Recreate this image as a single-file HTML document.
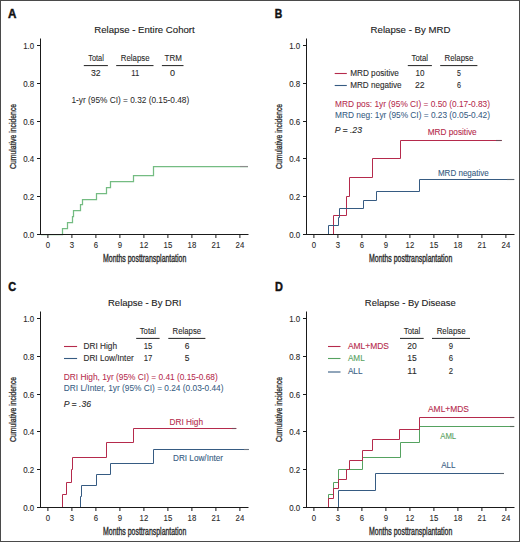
<!DOCTYPE html>
<html><head><meta charset="utf-8"><style>
html,body{margin:0;padding:0;background:#fff;}
svg{display:block;font-family:"Liberation Sans", sans-serif;}
</style></head><body>
<svg width="520" height="542" viewBox="0 0 520 542" font-family='"Liberation Sans", sans-serif'>
<rect x="0" y="0" width="520" height="542" fill="#fff"/>
<rect x="0.5" y="0.5" width="519" height="541" fill="none" stroke="#4a4a4a" stroke-width="1"/>
<text x="8.10" y="17.70" font-size="12" fill="#111" font-weight="bold" font-style="normal" textLength="8.40" lengthAdjust="spacingAndGlyphs" stroke="#111" stroke-width="0.45">A</text>
<text x="94.30" y="33.00" font-size="9.8" fill="#222" font-weight="normal" font-style="normal" textLength="100.40" lengthAdjust="spacingAndGlyphs" stroke="#222" stroke-width="0.12">Relapse - Entire Cohort</text>
<text x="88.20" y="60.50" font-size="8.3" fill="#2a2a2a" font-weight="normal" font-style="normal" textLength="15.60" lengthAdjust="spacingAndGlyphs" stroke="#2a2a2a" stroke-width="0.1">Total</text>
<text x="120.80" y="60.50" font-size="8.3" fill="#2a2a2a" font-weight="normal" font-style="normal" textLength="28.80" lengthAdjust="spacingAndGlyphs" stroke="#2a2a2a" stroke-width="0.1">Relapse</text>
<text x="164.60" y="60.50" font-size="8.3" fill="#2a2a2a" font-weight="normal" font-style="normal" textLength="17.30" lengthAdjust="spacingAndGlyphs" stroke="#2a2a2a" stroke-width="0.1">TRM</text>
<line x1="83.8" y1="65.6" x2="107.9" y2="65.6" stroke="#222" stroke-width="1"/>
<line x1="116.2" y1="65.6" x2="153.5" y2="65.6" stroke="#222" stroke-width="1"/>
<line x1="161.9" y1="65.6" x2="183.5" y2="65.6" stroke="#222" stroke-width="1"/>
<text x="91.00" y="76.30" font-size="8.3" fill="#2a2a2a" font-weight="normal" font-style="normal" textLength="9.70" lengthAdjust="spacingAndGlyphs" stroke="#2a2a2a" stroke-width="0.1">32</text>
<text x="131.20" y="76.30" font-size="8.3" fill="#2a2a2a" font-weight="normal" font-style="normal" textLength="8.00" lengthAdjust="spacingAndGlyphs" stroke="#2a2a2a" stroke-width="0.1">11</text>
<text x="170.00" y="76.30" font-size="8.3" fill="#2a2a2a" font-weight="normal" font-style="normal" textLength="5.00" lengthAdjust="spacingAndGlyphs" stroke="#2a2a2a" stroke-width="0.1">0</text>
<text x="71.50" y="102.80" font-size="8.8" fill="#2a2a2a" font-weight="normal" font-style="normal" textLength="117.70" lengthAdjust="spacingAndGlyphs" stroke="#2a2a2a" stroke-width="0.05">1-yr (95% CI) = 0.32 (0.15-0.48)</text>
<path d="M41,234.50 H62.5 V228.50 H67.5 V222.50 H72.5 V216.50 H73.5 V210.50 H80.5 V204.50 H82.5 V199.50 H96.5 V193.50 H106.5 V187.50 H110.5 V181.50 H133.5 V175.50 H153.5 V166.50 H248" fill="none" stroke="#74bc82" stroke-width="1.25" stroke-linejoin="miter" stroke-linecap="butt"/>
<line x1="40.5" y1="38.5" x2="40.5" y2="235" stroke="#1a1a1a" stroke-width="1"/>
<line x1="40" y1="234.5" x2="248.5" y2="234.5" stroke="#1a1a1a" stroke-width="1"/>
<line x1="37" y1="234.5" x2="40.5" y2="234.5" stroke="#1a1a1a" stroke-width="1"/>
<text x="23.20" y="237.50" font-size="8.2" fill="#2a2a2a" font-weight="normal" font-style="normal" textLength="11.00" lengthAdjust="spacingAndGlyphs" stroke="#2a2a2a" stroke-width="0.1">0.0</text>
<line x1="37" y1="196.5" x2="40.5" y2="196.5" stroke="#1a1a1a" stroke-width="1"/>
<text x="23.20" y="199.50" font-size="8.2" fill="#2a2a2a" font-weight="normal" font-style="normal" textLength="11.00" lengthAdjust="spacingAndGlyphs" stroke="#2a2a2a" stroke-width="0.1">0.2</text>
<line x1="37" y1="158.5" x2="40.5" y2="158.5" stroke="#1a1a1a" stroke-width="1"/>
<text x="23.20" y="161.50" font-size="8.2" fill="#2a2a2a" font-weight="normal" font-style="normal" textLength="11.00" lengthAdjust="spacingAndGlyphs" stroke="#2a2a2a" stroke-width="0.1">0.4</text>
<line x1="37" y1="121.5" x2="40.5" y2="121.5" stroke="#1a1a1a" stroke-width="1"/>
<text x="23.20" y="124.50" font-size="8.2" fill="#2a2a2a" font-weight="normal" font-style="normal" textLength="11.00" lengthAdjust="spacingAndGlyphs" stroke="#2a2a2a" stroke-width="0.1">0.6</text>
<line x1="37" y1="83.5" x2="40.5" y2="83.5" stroke="#1a1a1a" stroke-width="1"/>
<text x="23.20" y="86.50" font-size="8.2" fill="#2a2a2a" font-weight="normal" font-style="normal" textLength="11.00" lengthAdjust="spacingAndGlyphs" stroke="#2a2a2a" stroke-width="0.1">0.8</text>
<line x1="37" y1="45.5" x2="40.5" y2="45.5" stroke="#1a1a1a" stroke-width="1"/>
<text x="23.20" y="48.50" font-size="8.2" fill="#2a2a2a" font-weight="normal" font-style="normal" textLength="11.00" lengthAdjust="spacingAndGlyphs" stroke="#2a2a2a" stroke-width="0.1">1.0</text>
<line x1="47.9" y1="234.5" x2="47.9" y2="238" stroke="#1a1a1a" stroke-width="1"/>
<text x="45.73" y="248.00" font-size="8.4" fill="#2a2a2a" font-weight="normal" font-style="normal" textLength="4.33" lengthAdjust="spacingAndGlyphs" stroke="#2a2a2a" stroke-width="0.1">0</text>
<line x1="71.9" y1="234.5" x2="71.9" y2="238" stroke="#1a1a1a" stroke-width="1"/>
<text x="69.73" y="248.00" font-size="8.4" fill="#2a2a2a" font-weight="normal" font-style="normal" textLength="4.33" lengthAdjust="spacingAndGlyphs" stroke="#2a2a2a" stroke-width="0.1">3</text>
<line x1="95.9" y1="234.5" x2="95.9" y2="238" stroke="#1a1a1a" stroke-width="1"/>
<text x="93.73" y="248.00" font-size="8.4" fill="#2a2a2a" font-weight="normal" font-style="normal" textLength="4.33" lengthAdjust="spacingAndGlyphs" stroke="#2a2a2a" stroke-width="0.1">6</text>
<line x1="119.9" y1="234.5" x2="119.9" y2="238" stroke="#1a1a1a" stroke-width="1"/>
<text x="117.73" y="248.00" font-size="8.4" fill="#2a2a2a" font-weight="normal" font-style="normal" textLength="4.33" lengthAdjust="spacingAndGlyphs" stroke="#2a2a2a" stroke-width="0.1">9</text>
<line x1="143.9" y1="234.5" x2="143.9" y2="238" stroke="#1a1a1a" stroke-width="1"/>
<text x="139.57" y="248.00" font-size="8.4" fill="#2a2a2a" font-weight="normal" font-style="normal" textLength="8.66" lengthAdjust="spacingAndGlyphs" stroke="#2a2a2a" stroke-width="0.1">12</text>
<line x1="167.9" y1="234.5" x2="167.9" y2="238" stroke="#1a1a1a" stroke-width="1"/>
<text x="163.57" y="248.00" font-size="8.4" fill="#2a2a2a" font-weight="normal" font-style="normal" textLength="8.66" lengthAdjust="spacingAndGlyphs" stroke="#2a2a2a" stroke-width="0.1">15</text>
<line x1="191.9" y1="234.5" x2="191.9" y2="238" stroke="#1a1a1a" stroke-width="1"/>
<text x="187.57" y="248.00" font-size="8.4" fill="#2a2a2a" font-weight="normal" font-style="normal" textLength="8.66" lengthAdjust="spacingAndGlyphs" stroke="#2a2a2a" stroke-width="0.1">18</text>
<line x1="215.9" y1="234.5" x2="215.9" y2="238" stroke="#1a1a1a" stroke-width="1"/>
<text x="211.57" y="248.00" font-size="8.4" fill="#2a2a2a" font-weight="normal" font-style="normal" textLength="8.66" lengthAdjust="spacingAndGlyphs" stroke="#2a2a2a" stroke-width="0.1">21</text>
<line x1="239.9" y1="234.5" x2="239.9" y2="238" stroke="#1a1a1a" stroke-width="1"/>
<text x="235.57" y="248.00" font-size="8.4" fill="#2a2a2a" font-weight="normal" font-style="normal" textLength="8.66" lengthAdjust="spacingAndGlyphs" stroke="#2a2a2a" stroke-width="0.1">24</text>
<text x="103.10" y="262.20" font-size="10.0" fill="#2a2a2a" font-weight="normal" font-style="normal" textLength="83.20" lengthAdjust="spacingAndGlyphs" stroke="#2a2a2a" stroke-width="0.35">Months posttransplantation</text>
<text x="-168.90" y="16.40" transform="rotate(-90)" font-size="8.7" fill="#2a2a2a" stroke="#2a2a2a" stroke-width="0.3" textLength="65.0" lengthAdjust="spacingAndGlyphs">Cumulative incidence</text>
<text x="274.80" y="17.60" font-size="12" fill="#111" font-weight="bold" font-style="normal" textLength="7.50" lengthAdjust="spacingAndGlyphs" stroke="#111" stroke-width="0.45">B</text>
<text x="370.60" y="32.70" font-size="9.8" fill="#222" font-weight="normal" font-style="normal" textLength="79.80" lengthAdjust="spacingAndGlyphs" stroke="#222" stroke-width="0.12">Relapse - By MRD</text>
<text x="411.60" y="60.60" font-size="8.3" fill="#2a2a2a" font-weight="normal" font-style="normal" textLength="16.40" lengthAdjust="spacingAndGlyphs" stroke="#2a2a2a" stroke-width="0.1">Total</text>
<text x="444.50" y="60.60" font-size="8.3" fill="#2a2a2a" font-weight="normal" font-style="normal" textLength="28.90" lengthAdjust="spacingAndGlyphs" stroke="#2a2a2a" stroke-width="0.1">Relapse</text>
<line x1="407.8" y1="65.6" x2="431.9" y2="65.6" stroke="#222" stroke-width="1"/>
<line x1="440.2" y1="65.6" x2="477.4" y2="65.6" stroke="#222" stroke-width="1"/>
<line x1="334.7" y1="73.5" x2="346.8" y2="73.5" stroke="#b52a4c" stroke-width="1.1"/>
<text x="350.20" y="76.20" font-size="8.3" fill="#2a2a2a" font-weight="normal" font-style="normal" textLength="48.70" lengthAdjust="spacingAndGlyphs" stroke="#2a2a2a" stroke-width="0.1">MRD positive</text>
<text x="415.60" y="76.20" font-size="8.3" fill="#2a2a2a" font-weight="normal" font-style="normal" textLength="9.00" lengthAdjust="spacingAndGlyphs" stroke="#2a2a2a" stroke-width="0.1">10</text>
<text x="457.10" y="76.20" font-size="8.3" fill="#2a2a2a" font-weight="normal" font-style="normal" textLength="3.90" lengthAdjust="spacingAndGlyphs" stroke="#2a2a2a" stroke-width="0.1">5</text>
<line x1="334.7" y1="85.5" x2="346.8" y2="85.5" stroke="#365b82" stroke-width="1.1"/>
<text x="350.20" y="88.30" font-size="8.3" fill="#2a2a2a" font-weight="normal" font-style="normal" textLength="51.40" lengthAdjust="spacingAndGlyphs" stroke="#2a2a2a" stroke-width="0.1">MRD negative</text>
<text x="415.00" y="88.30" font-size="8.3" fill="#2a2a2a" font-weight="normal" font-style="normal" textLength="9.60" lengthAdjust="spacingAndGlyphs" stroke="#2a2a2a" stroke-width="0.1">22</text>
<text x="457.00" y="88.30" font-size="8.3" fill="#2a2a2a" font-weight="normal" font-style="normal" textLength="4.00" lengthAdjust="spacingAndGlyphs" stroke="#2a2a2a" stroke-width="0.1">6</text>
<text x="335.10" y="106.80" font-size="8.8" fill="#b52a4c" font-weight="normal" font-style="normal" textLength="154.90" lengthAdjust="spacingAndGlyphs" stroke="#b52a4c" stroke-width="0.05">MRD pos: 1yr (95% CI) = 0.50 (0.17-0.83)</text>
<text x="335.10" y="117.90" font-size="8.8" fill="#365b82" font-weight="normal" font-style="normal" textLength="154.90" lengthAdjust="spacingAndGlyphs" stroke="#365b82" stroke-width="0.05">MRD neg: 1yr (95% CI) = 0.23 (0.05-0.42)</text>
<text x="334.70" y="133.40" font-size="8.3" fill="#2a2a2a" font-weight="normal" font-style="italic" textLength="5.80" lengthAdjust="spacingAndGlyphs" stroke="#2a2a2a" stroke-width="0.1">P</text>
<text x="342.50" y="133.40" font-size="8.3" fill="#2a2a2a" font-weight="normal" font-style="italic" textLength="19.50" lengthAdjust="spacingAndGlyphs" stroke="#2a2a2a" stroke-width="0.1">= .23</text>
<text x="427.70" y="135.00" font-size="9.1" fill="#b52a4c" font-weight="normal" font-style="normal" textLength="49.00" lengthAdjust="spacingAndGlyphs" stroke="#b52a4c" stroke-width="0.1">MRD positive</text>
<text x="437.90" y="175.80" font-size="9.1" fill="#365b82" font-weight="normal" font-style="normal" textLength="50.90" lengthAdjust="spacingAndGlyphs" stroke="#365b82" stroke-width="0.1">MRD negative</text>
<path d="M307,234.50 H333.5 V215.50 H346.5 V196.50 H349.5 V177.50 H372.5 V158.50 H400.5 V140.50 H501.7" fill="none" stroke="#b52a4c" stroke-width="1.0" stroke-linejoin="miter" stroke-linecap="butt"/>
<path d="M307,234.50 H328.5 V225.50 H338.5 V217.50 H339.5 V208.50 H363.5 V200.50 H376.5 V191.50 H419.5 V179.50 H514.2" fill="none" stroke="#365b82" stroke-width="1.0" stroke-linejoin="miter" stroke-linecap="butt"/>
<line x1="306.5" y1="38.5" x2="306.5" y2="235" stroke="#1a1a1a" stroke-width="1"/>
<line x1="306" y1="234.5" x2="514.5" y2="234.5" stroke="#1a1a1a" stroke-width="1"/>
<line x1="303" y1="234.5" x2="306.5" y2="234.5" stroke="#1a1a1a" stroke-width="1"/>
<text x="289.20" y="237.50" font-size="8.2" fill="#2a2a2a" font-weight="normal" font-style="normal" textLength="11.00" lengthAdjust="spacingAndGlyphs" stroke="#2a2a2a" stroke-width="0.1">0.0</text>
<line x1="303" y1="196.5" x2="306.5" y2="196.5" stroke="#1a1a1a" stroke-width="1"/>
<text x="289.20" y="199.50" font-size="8.2" fill="#2a2a2a" font-weight="normal" font-style="normal" textLength="11.00" lengthAdjust="spacingAndGlyphs" stroke="#2a2a2a" stroke-width="0.1">0.2</text>
<line x1="303" y1="158.5" x2="306.5" y2="158.5" stroke="#1a1a1a" stroke-width="1"/>
<text x="289.20" y="161.50" font-size="8.2" fill="#2a2a2a" font-weight="normal" font-style="normal" textLength="11.00" lengthAdjust="spacingAndGlyphs" stroke="#2a2a2a" stroke-width="0.1">0.4</text>
<line x1="303" y1="121.5" x2="306.5" y2="121.5" stroke="#1a1a1a" stroke-width="1"/>
<text x="289.20" y="124.50" font-size="8.2" fill="#2a2a2a" font-weight="normal" font-style="normal" textLength="11.00" lengthAdjust="spacingAndGlyphs" stroke="#2a2a2a" stroke-width="0.1">0.6</text>
<line x1="303" y1="83.5" x2="306.5" y2="83.5" stroke="#1a1a1a" stroke-width="1"/>
<text x="289.20" y="86.50" font-size="8.2" fill="#2a2a2a" font-weight="normal" font-style="normal" textLength="11.00" lengthAdjust="spacingAndGlyphs" stroke="#2a2a2a" stroke-width="0.1">0.8</text>
<line x1="303" y1="45.5" x2="306.5" y2="45.5" stroke="#1a1a1a" stroke-width="1"/>
<text x="289.20" y="48.50" font-size="8.2" fill="#2a2a2a" font-weight="normal" font-style="normal" textLength="11.00" lengthAdjust="spacingAndGlyphs" stroke="#2a2a2a" stroke-width="0.1">1.0</text>
<line x1="313.9" y1="234.5" x2="313.9" y2="238" stroke="#1a1a1a" stroke-width="1"/>
<text x="311.73" y="248.00" font-size="8.4" fill="#2a2a2a" font-weight="normal" font-style="normal" textLength="4.33" lengthAdjust="spacingAndGlyphs" stroke="#2a2a2a" stroke-width="0.1">0</text>
<line x1="337.9" y1="234.5" x2="337.9" y2="238" stroke="#1a1a1a" stroke-width="1"/>
<text x="335.73" y="248.00" font-size="8.4" fill="#2a2a2a" font-weight="normal" font-style="normal" textLength="4.33" lengthAdjust="spacingAndGlyphs" stroke="#2a2a2a" stroke-width="0.1">3</text>
<line x1="361.9" y1="234.5" x2="361.9" y2="238" stroke="#1a1a1a" stroke-width="1"/>
<text x="359.73" y="248.00" font-size="8.4" fill="#2a2a2a" font-weight="normal" font-style="normal" textLength="4.33" lengthAdjust="spacingAndGlyphs" stroke="#2a2a2a" stroke-width="0.1">6</text>
<line x1="385.9" y1="234.5" x2="385.9" y2="238" stroke="#1a1a1a" stroke-width="1"/>
<text x="383.73" y="248.00" font-size="8.4" fill="#2a2a2a" font-weight="normal" font-style="normal" textLength="4.33" lengthAdjust="spacingAndGlyphs" stroke="#2a2a2a" stroke-width="0.1">9</text>
<line x1="409.9" y1="234.5" x2="409.9" y2="238" stroke="#1a1a1a" stroke-width="1"/>
<text x="405.57" y="248.00" font-size="8.4" fill="#2a2a2a" font-weight="normal" font-style="normal" textLength="8.66" lengthAdjust="spacingAndGlyphs" stroke="#2a2a2a" stroke-width="0.1">12</text>
<line x1="433.9" y1="234.5" x2="433.9" y2="238" stroke="#1a1a1a" stroke-width="1"/>
<text x="429.57" y="248.00" font-size="8.4" fill="#2a2a2a" font-weight="normal" font-style="normal" textLength="8.66" lengthAdjust="spacingAndGlyphs" stroke="#2a2a2a" stroke-width="0.1">15</text>
<line x1="457.9" y1="234.5" x2="457.9" y2="238" stroke="#1a1a1a" stroke-width="1"/>
<text x="453.57" y="248.00" font-size="8.4" fill="#2a2a2a" font-weight="normal" font-style="normal" textLength="8.66" lengthAdjust="spacingAndGlyphs" stroke="#2a2a2a" stroke-width="0.1">18</text>
<line x1="481.9" y1="234.5" x2="481.9" y2="238" stroke="#1a1a1a" stroke-width="1"/>
<text x="477.57" y="248.00" font-size="8.4" fill="#2a2a2a" font-weight="normal" font-style="normal" textLength="8.66" lengthAdjust="spacingAndGlyphs" stroke="#2a2a2a" stroke-width="0.1">21</text>
<line x1="505.9" y1="234.5" x2="505.9" y2="238" stroke="#1a1a1a" stroke-width="1"/>
<text x="501.57" y="248.00" font-size="8.4" fill="#2a2a2a" font-weight="normal" font-style="normal" textLength="8.66" lengthAdjust="spacingAndGlyphs" stroke="#2a2a2a" stroke-width="0.1">24</text>
<text x="369.10" y="262.20" font-size="10.0" fill="#2a2a2a" font-weight="normal" font-style="normal" textLength="83.20" lengthAdjust="spacingAndGlyphs" stroke="#2a2a2a" stroke-width="0.35">Months posttransplantation</text>
<text x="-168.90" y="282.40" transform="rotate(-90)" font-size="8.7" fill="#2a2a2a" stroke="#2a2a2a" stroke-width="0.3" textLength="65.0" lengthAdjust="spacingAndGlyphs">Cumulative incidence</text>
<text x="8.30" y="290.80" font-size="12" fill="#111" font-weight="bold" font-style="normal" textLength="7.90" lengthAdjust="spacingAndGlyphs" stroke="#111" stroke-width="0.45">C</text>
<text x="108.00" y="305.50" font-size="9.8" fill="#222" font-weight="normal" font-style="normal" textLength="73.40" lengthAdjust="spacingAndGlyphs" stroke="#222" stroke-width="0.12">Relapse - By DRI</text>
<text x="139.70" y="333.50" font-size="8.3" fill="#2a2a2a" font-weight="normal" font-style="normal" textLength="16.40" lengthAdjust="spacingAndGlyphs" stroke="#2a2a2a" stroke-width="0.1">Total</text>
<text x="172.60" y="333.50" font-size="8.3" fill="#2a2a2a" font-weight="normal" font-style="normal" textLength="28.50" lengthAdjust="spacingAndGlyphs" stroke="#2a2a2a" stroke-width="0.1">Relapse</text>
<line x1="136.2" y1="338.4" x2="159.6" y2="338.4" stroke="#222" stroke-width="1"/>
<line x1="168.3" y1="338.4" x2="205.4" y2="338.4" stroke="#222" stroke-width="1"/>
<line x1="64" y1="346.5" x2="77.1" y2="346.5" stroke="#b52a4c" stroke-width="1.1"/>
<text x="83.50" y="348.90" font-size="8.3" fill="#2a2a2a" font-weight="normal" font-style="normal" textLength="33.50" lengthAdjust="spacingAndGlyphs" stroke="#2a2a2a" stroke-width="0.1">DRI High</text>
<text x="143.70" y="348.70" font-size="8.3" fill="#2a2a2a" font-weight="normal" font-style="normal" textLength="8.60" lengthAdjust="spacingAndGlyphs" stroke="#2a2a2a" stroke-width="0.1">15</text>
<text x="184.70" y="348.70" font-size="8.3" fill="#2a2a2a" font-weight="normal" font-style="normal" textLength="4.70" lengthAdjust="spacingAndGlyphs" stroke="#2a2a2a" stroke-width="0.1">6</text>
<line x1="64" y1="358.5" x2="77.1" y2="358.5" stroke="#365b82" stroke-width="1.1"/>
<text x="83.50" y="361.20" font-size="8.3" fill="#2a2a2a" font-weight="normal" font-style="normal" textLength="50.20" lengthAdjust="spacingAndGlyphs" stroke="#2a2a2a" stroke-width="0.1">DRI Low/Inter</text>
<text x="143.70" y="361.10" font-size="8.3" fill="#2a2a2a" font-weight="normal" font-style="normal" textLength="8.60" lengthAdjust="spacingAndGlyphs" stroke="#2a2a2a" stroke-width="0.1">17</text>
<text x="184.70" y="361.10" font-size="8.3" fill="#2a2a2a" font-weight="normal" font-style="normal" textLength="4.70" lengthAdjust="spacingAndGlyphs" stroke="#2a2a2a" stroke-width="0.1">5</text>
<text x="63.80" y="380.00" font-size="8.8" fill="#b52a4c" font-weight="normal" font-style="normal" textLength="153.90" lengthAdjust="spacingAndGlyphs" stroke="#b52a4c" stroke-width="0.05">DRI High, 1yr (95% CI) = 0.41 (0.15-0.68)</text>
<text x="63.80" y="391.20" font-size="8.8" fill="#365b82" font-weight="normal" font-style="normal" textLength="159.70" lengthAdjust="spacingAndGlyphs" stroke="#365b82" stroke-width="0.05">DRI L/Inter, 1yr (95% CI) = 0.24 (0.03-0.44)</text>
<text x="63.80" y="406.60" font-size="8.3" fill="#2a2a2a" font-weight="normal" font-style="italic" textLength="5.80" lengthAdjust="spacingAndGlyphs" stroke="#2a2a2a" stroke-width="0.1">P</text>
<text x="71.60" y="406.60" font-size="8.3" fill="#2a2a2a" font-weight="normal" font-style="italic" textLength="19.40" lengthAdjust="spacingAndGlyphs" stroke="#2a2a2a" stroke-width="0.1">= .36</text>
<text x="169.50" y="424.50" font-size="9.1" fill="#b52a4c" font-weight="normal" font-style="normal" textLength="33.50" lengthAdjust="spacingAndGlyphs" stroke="#b52a4c" stroke-width="0.1">DRI High</text>
<text x="173.00" y="460.50" font-size="9.1" fill="#365b82" font-weight="normal" font-style="normal" textLength="50.00" lengthAdjust="spacingAndGlyphs" stroke="#365b82" stroke-width="0.1">DRI Low/Inter</text>
<path d="M41,507.50 H62.5 V494.50 H66.5 V482.50 H71.5 V469.50 H72.5 V457.50 H106.5 V442.50 H133.5 V428.50 H236.25" fill="none" stroke="#b52a4c" stroke-width="1.0" stroke-linejoin="miter" stroke-linecap="butt"/>
<path d="M41,507.50 H80.5 V496.50 H81.5 V485.50 H96.5 V474.50 H110.5 V463.50 H153.5 V449.50 H248.75" fill="none" stroke="#365b82" stroke-width="1.0" stroke-linejoin="miter" stroke-linecap="butt"/>
<line x1="40.5" y1="311.5" x2="40.5" y2="508" stroke="#1a1a1a" stroke-width="1"/>
<line x1="40" y1="507.5" x2="248.5" y2="507.5" stroke="#1a1a1a" stroke-width="1"/>
<line x1="37" y1="507.5" x2="40.5" y2="507.5" stroke="#1a1a1a" stroke-width="1"/>
<text x="23.20" y="510.50" font-size="8.2" fill="#2a2a2a" font-weight="normal" font-style="normal" textLength="11.00" lengthAdjust="spacingAndGlyphs" stroke="#2a2a2a" stroke-width="0.1">0.0</text>
<line x1="37" y1="469.5" x2="40.5" y2="469.5" stroke="#1a1a1a" stroke-width="1"/>
<text x="23.20" y="472.50" font-size="8.2" fill="#2a2a2a" font-weight="normal" font-style="normal" textLength="11.00" lengthAdjust="spacingAndGlyphs" stroke="#2a2a2a" stroke-width="0.1">0.2</text>
<line x1="37" y1="431.5" x2="40.5" y2="431.5" stroke="#1a1a1a" stroke-width="1"/>
<text x="23.20" y="434.50" font-size="8.2" fill="#2a2a2a" font-weight="normal" font-style="normal" textLength="11.00" lengthAdjust="spacingAndGlyphs" stroke="#2a2a2a" stroke-width="0.1">0.4</text>
<line x1="37" y1="394.5" x2="40.5" y2="394.5" stroke="#1a1a1a" stroke-width="1"/>
<text x="23.20" y="397.50" font-size="8.2" fill="#2a2a2a" font-weight="normal" font-style="normal" textLength="11.00" lengthAdjust="spacingAndGlyphs" stroke="#2a2a2a" stroke-width="0.1">0.6</text>
<line x1="37" y1="356.5" x2="40.5" y2="356.5" stroke="#1a1a1a" stroke-width="1"/>
<text x="23.20" y="359.50" font-size="8.2" fill="#2a2a2a" font-weight="normal" font-style="normal" textLength="11.00" lengthAdjust="spacingAndGlyphs" stroke="#2a2a2a" stroke-width="0.1">0.8</text>
<line x1="37" y1="318.5" x2="40.5" y2="318.5" stroke="#1a1a1a" stroke-width="1"/>
<text x="23.20" y="321.50" font-size="8.2" fill="#2a2a2a" font-weight="normal" font-style="normal" textLength="11.00" lengthAdjust="spacingAndGlyphs" stroke="#2a2a2a" stroke-width="0.1">1.0</text>
<line x1="47.9" y1="507.5" x2="47.9" y2="511" stroke="#1a1a1a" stroke-width="1"/>
<text x="45.73" y="521.00" font-size="8.4" fill="#2a2a2a" font-weight="normal" font-style="normal" textLength="4.33" lengthAdjust="spacingAndGlyphs" stroke="#2a2a2a" stroke-width="0.1">0</text>
<line x1="71.9" y1="507.5" x2="71.9" y2="511" stroke="#1a1a1a" stroke-width="1"/>
<text x="69.73" y="521.00" font-size="8.4" fill="#2a2a2a" font-weight="normal" font-style="normal" textLength="4.33" lengthAdjust="spacingAndGlyphs" stroke="#2a2a2a" stroke-width="0.1">3</text>
<line x1="95.9" y1="507.5" x2="95.9" y2="511" stroke="#1a1a1a" stroke-width="1"/>
<text x="93.73" y="521.00" font-size="8.4" fill="#2a2a2a" font-weight="normal" font-style="normal" textLength="4.33" lengthAdjust="spacingAndGlyphs" stroke="#2a2a2a" stroke-width="0.1">6</text>
<line x1="119.9" y1="507.5" x2="119.9" y2="511" stroke="#1a1a1a" stroke-width="1"/>
<text x="117.73" y="521.00" font-size="8.4" fill="#2a2a2a" font-weight="normal" font-style="normal" textLength="4.33" lengthAdjust="spacingAndGlyphs" stroke="#2a2a2a" stroke-width="0.1">9</text>
<line x1="143.9" y1="507.5" x2="143.9" y2="511" stroke="#1a1a1a" stroke-width="1"/>
<text x="139.57" y="521.00" font-size="8.4" fill="#2a2a2a" font-weight="normal" font-style="normal" textLength="8.66" lengthAdjust="spacingAndGlyphs" stroke="#2a2a2a" stroke-width="0.1">12</text>
<line x1="167.9" y1="507.5" x2="167.9" y2="511" stroke="#1a1a1a" stroke-width="1"/>
<text x="163.57" y="521.00" font-size="8.4" fill="#2a2a2a" font-weight="normal" font-style="normal" textLength="8.66" lengthAdjust="spacingAndGlyphs" stroke="#2a2a2a" stroke-width="0.1">15</text>
<line x1="191.9" y1="507.5" x2="191.9" y2="511" stroke="#1a1a1a" stroke-width="1"/>
<text x="187.57" y="521.00" font-size="8.4" fill="#2a2a2a" font-weight="normal" font-style="normal" textLength="8.66" lengthAdjust="spacingAndGlyphs" stroke="#2a2a2a" stroke-width="0.1">18</text>
<line x1="215.9" y1="507.5" x2="215.9" y2="511" stroke="#1a1a1a" stroke-width="1"/>
<text x="211.57" y="521.00" font-size="8.4" fill="#2a2a2a" font-weight="normal" font-style="normal" textLength="8.66" lengthAdjust="spacingAndGlyphs" stroke="#2a2a2a" stroke-width="0.1">21</text>
<line x1="239.9" y1="507.5" x2="239.9" y2="511" stroke="#1a1a1a" stroke-width="1"/>
<text x="235.57" y="521.00" font-size="8.4" fill="#2a2a2a" font-weight="normal" font-style="normal" textLength="8.66" lengthAdjust="spacingAndGlyphs" stroke="#2a2a2a" stroke-width="0.1">24</text>
<text x="103.10" y="535.20" font-size="10.0" fill="#2a2a2a" font-weight="normal" font-style="normal" textLength="83.20" lengthAdjust="spacingAndGlyphs" stroke="#2a2a2a" stroke-width="0.35">Months posttransplantation</text>
<text x="-441.90" y="16.40" transform="rotate(-90)" font-size="8.7" fill="#2a2a2a" stroke="#2a2a2a" stroke-width="0.3" textLength="65.0" lengthAdjust="spacingAndGlyphs">Cumulative incidence</text>
<text x="275.00" y="290.60" font-size="12" fill="#111" font-weight="bold" font-style="normal" textLength="7.90" lengthAdjust="spacingAndGlyphs" stroke="#111" stroke-width="0.45">D</text>
<text x="364.80" y="305.50" font-size="9.8" fill="#222" font-weight="normal" font-style="normal" textLength="91.00" lengthAdjust="spacingAndGlyphs" stroke="#222" stroke-width="0.12">Relapse - By Disease</text>
<text x="403.80" y="333.50" font-size="8.3" fill="#2a2a2a" font-weight="normal" font-style="normal" textLength="16.50" lengthAdjust="spacingAndGlyphs" stroke="#2a2a2a" stroke-width="0.1">Total</text>
<text x="436.70" y="333.50" font-size="8.3" fill="#2a2a2a" font-weight="normal" font-style="normal" textLength="28.90" lengthAdjust="spacingAndGlyphs" stroke="#2a2a2a" stroke-width="0.1">Relapse</text>
<line x1="400" y1="338.4" x2="423.7" y2="338.4" stroke="#222" stroke-width="1"/>
<line x1="432" y1="338.4" x2="470" y2="338.4" stroke="#222" stroke-width="1"/>
<line x1="328" y1="346.5" x2="340.5" y2="346.5" stroke="#b52a4c" stroke-width="1.1"/>
<text x="347.90" y="349.20" font-size="8.3" fill="#b52a4c" font-weight="normal" font-style="normal" textLength="41.00" lengthAdjust="spacingAndGlyphs" stroke="#b52a4c" stroke-width="0.1">AML+MDS</text>
<text x="407.30" y="348.70" font-size="8.3" fill="#2a2a2a" font-weight="normal" font-style="normal" textLength="9.50" lengthAdjust="spacingAndGlyphs" stroke="#2a2a2a" stroke-width="0.1">20</text>
<text x="448.80" y="348.70" font-size="8.3" fill="#2a2a2a" font-weight="normal" font-style="normal" textLength="4.30" lengthAdjust="spacingAndGlyphs" stroke="#2a2a2a" stroke-width="0.1">9</text>
<line x1="328" y1="358.5" x2="340.5" y2="358.5" stroke="#55a260" stroke-width="1.1"/>
<text x="347.90" y="361.30" font-size="8.3" fill="#55a260" font-weight="normal" font-style="normal" textLength="16.80" lengthAdjust="spacingAndGlyphs" stroke="#55a260" stroke-width="0.1">AML</text>
<text x="407.30" y="361.20" font-size="8.3" fill="#2a2a2a" font-weight="normal" font-style="normal" textLength="9.50" lengthAdjust="spacingAndGlyphs" stroke="#2a2a2a" stroke-width="0.1">15</text>
<text x="448.80" y="361.20" font-size="8.3" fill="#2a2a2a" font-weight="normal" font-style="normal" textLength="4.30" lengthAdjust="spacingAndGlyphs" stroke="#2a2a2a" stroke-width="0.1">6</text>
<line x1="328" y1="372" x2="340.5" y2="372" stroke="#365b82" stroke-width="1.1"/>
<text x="347.90" y="374.30" font-size="8.3" fill="#365b82" font-weight="normal" font-style="normal" textLength="14.60" lengthAdjust="spacingAndGlyphs" stroke="#365b82" stroke-width="0.1">ALL</text>
<text x="407.30" y="374.20" font-size="8.3" fill="#2a2a2a" font-weight="normal" font-style="normal" textLength="9.50" lengthAdjust="spacingAndGlyphs" stroke="#2a2a2a" stroke-width="0.1">11</text>
<text x="448.80" y="374.20" font-size="8.3" fill="#2a2a2a" font-weight="normal" font-style="normal" textLength="4.30" lengthAdjust="spacingAndGlyphs" stroke="#2a2a2a" stroke-width="0.1">2</text>
<text x="428.00" y="411.90" font-size="9.1" fill="#b52a4c" font-weight="normal" font-style="normal" textLength="41.00" lengthAdjust="spacingAndGlyphs" stroke="#b52a4c" stroke-width="0.1">AML+MDS</text>
<text x="440.20" y="438.50" font-size="9.1" fill="#55a260" font-weight="normal" font-style="normal" textLength="16.00" lengthAdjust="spacingAndGlyphs" stroke="#55a260" stroke-width="0.1">AML</text>
<text x="441.20" y="468.30" font-size="9.1" fill="#365b82" font-weight="normal" font-style="normal" textLength="14.40" lengthAdjust="spacingAndGlyphs" stroke="#365b82" stroke-width="0.1">ALL</text>
<path d="M307,507.50 H338.5 V490.50 H375.5 V473.50 H504" fill="none" stroke="#365b82" stroke-width="1.0" stroke-linejoin="miter" stroke-linecap="butt"/>
<path d="M307,507.50 H328.5 V494.50 H333.5 V482.50 H338.5 V469.50 H362.5 V457.50 H400.5 V442.50 H419.5 V426.50 H514.2" fill="none" stroke="#55a260" stroke-width="1.0" stroke-linejoin="miter" stroke-linecap="butt"/>
<path d="M307,507.50 H328.5 V498.50 H333.5 V488.50 H338.5 V479.50 H346.5 V469.50 H349.5 V460.50 H362.5 V450.50 H372.5 V439.50 H399.5 V429.50 H419.5 V417.50 H514.2" fill="none" stroke="#b52a4c" stroke-width="1.0" stroke-linejoin="miter" stroke-linecap="butt"/>
<line x1="306.5" y1="311.5" x2="306.5" y2="508" stroke="#1a1a1a" stroke-width="1"/>
<line x1="306" y1="507.5" x2="514.5" y2="507.5" stroke="#1a1a1a" stroke-width="1"/>
<line x1="303" y1="507.5" x2="306.5" y2="507.5" stroke="#1a1a1a" stroke-width="1"/>
<text x="289.20" y="510.50" font-size="8.2" fill="#2a2a2a" font-weight="normal" font-style="normal" textLength="11.00" lengthAdjust="spacingAndGlyphs" stroke="#2a2a2a" stroke-width="0.1">0.0</text>
<line x1="303" y1="469.5" x2="306.5" y2="469.5" stroke="#1a1a1a" stroke-width="1"/>
<text x="289.20" y="472.50" font-size="8.2" fill="#2a2a2a" font-weight="normal" font-style="normal" textLength="11.00" lengthAdjust="spacingAndGlyphs" stroke="#2a2a2a" stroke-width="0.1">0.2</text>
<line x1="303" y1="431.5" x2="306.5" y2="431.5" stroke="#1a1a1a" stroke-width="1"/>
<text x="289.20" y="434.50" font-size="8.2" fill="#2a2a2a" font-weight="normal" font-style="normal" textLength="11.00" lengthAdjust="spacingAndGlyphs" stroke="#2a2a2a" stroke-width="0.1">0.4</text>
<line x1="303" y1="394.5" x2="306.5" y2="394.5" stroke="#1a1a1a" stroke-width="1"/>
<text x="289.20" y="397.50" font-size="8.2" fill="#2a2a2a" font-weight="normal" font-style="normal" textLength="11.00" lengthAdjust="spacingAndGlyphs" stroke="#2a2a2a" stroke-width="0.1">0.6</text>
<line x1="303" y1="356.5" x2="306.5" y2="356.5" stroke="#1a1a1a" stroke-width="1"/>
<text x="289.20" y="359.50" font-size="8.2" fill="#2a2a2a" font-weight="normal" font-style="normal" textLength="11.00" lengthAdjust="spacingAndGlyphs" stroke="#2a2a2a" stroke-width="0.1">0.8</text>
<line x1="303" y1="318.5" x2="306.5" y2="318.5" stroke="#1a1a1a" stroke-width="1"/>
<text x="289.20" y="321.50" font-size="8.2" fill="#2a2a2a" font-weight="normal" font-style="normal" textLength="11.00" lengthAdjust="spacingAndGlyphs" stroke="#2a2a2a" stroke-width="0.1">1.0</text>
<line x1="313.9" y1="507.5" x2="313.9" y2="511" stroke="#1a1a1a" stroke-width="1"/>
<text x="311.73" y="521.00" font-size="8.4" fill="#2a2a2a" font-weight="normal" font-style="normal" textLength="4.33" lengthAdjust="spacingAndGlyphs" stroke="#2a2a2a" stroke-width="0.1">0</text>
<line x1="337.9" y1="507.5" x2="337.9" y2="511" stroke="#1a1a1a" stroke-width="1"/>
<text x="335.73" y="521.00" font-size="8.4" fill="#2a2a2a" font-weight="normal" font-style="normal" textLength="4.33" lengthAdjust="spacingAndGlyphs" stroke="#2a2a2a" stroke-width="0.1">3</text>
<line x1="361.9" y1="507.5" x2="361.9" y2="511" stroke="#1a1a1a" stroke-width="1"/>
<text x="359.73" y="521.00" font-size="8.4" fill="#2a2a2a" font-weight="normal" font-style="normal" textLength="4.33" lengthAdjust="spacingAndGlyphs" stroke="#2a2a2a" stroke-width="0.1">6</text>
<line x1="385.9" y1="507.5" x2="385.9" y2="511" stroke="#1a1a1a" stroke-width="1"/>
<text x="383.73" y="521.00" font-size="8.4" fill="#2a2a2a" font-weight="normal" font-style="normal" textLength="4.33" lengthAdjust="spacingAndGlyphs" stroke="#2a2a2a" stroke-width="0.1">9</text>
<line x1="409.9" y1="507.5" x2="409.9" y2="511" stroke="#1a1a1a" stroke-width="1"/>
<text x="405.57" y="521.00" font-size="8.4" fill="#2a2a2a" font-weight="normal" font-style="normal" textLength="8.66" lengthAdjust="spacingAndGlyphs" stroke="#2a2a2a" stroke-width="0.1">12</text>
<line x1="433.9" y1="507.5" x2="433.9" y2="511" stroke="#1a1a1a" stroke-width="1"/>
<text x="429.57" y="521.00" font-size="8.4" fill="#2a2a2a" font-weight="normal" font-style="normal" textLength="8.66" lengthAdjust="spacingAndGlyphs" stroke="#2a2a2a" stroke-width="0.1">15</text>
<line x1="457.9" y1="507.5" x2="457.9" y2="511" stroke="#1a1a1a" stroke-width="1"/>
<text x="453.57" y="521.00" font-size="8.4" fill="#2a2a2a" font-weight="normal" font-style="normal" textLength="8.66" lengthAdjust="spacingAndGlyphs" stroke="#2a2a2a" stroke-width="0.1">18</text>
<line x1="481.9" y1="507.5" x2="481.9" y2="511" stroke="#1a1a1a" stroke-width="1"/>
<text x="477.57" y="521.00" font-size="8.4" fill="#2a2a2a" font-weight="normal" font-style="normal" textLength="8.66" lengthAdjust="spacingAndGlyphs" stroke="#2a2a2a" stroke-width="0.1">21</text>
<line x1="505.9" y1="507.5" x2="505.9" y2="511" stroke="#1a1a1a" stroke-width="1"/>
<text x="501.57" y="521.00" font-size="8.4" fill="#2a2a2a" font-weight="normal" font-style="normal" textLength="8.66" lengthAdjust="spacingAndGlyphs" stroke="#2a2a2a" stroke-width="0.1">24</text>
<text x="369.10" y="535.20" font-size="10.0" fill="#2a2a2a" font-weight="normal" font-style="normal" textLength="83.20" lengthAdjust="spacingAndGlyphs" stroke="#2a2a2a" stroke-width="0.35">Months posttransplantation</text>
<text x="-441.90" y="282.40" transform="rotate(-90)" font-size="8.7" fill="#2a2a2a" stroke="#2a2a2a" stroke-width="0.3" textLength="65.0" lengthAdjust="spacingAndGlyphs">Cumulative incidence</text>
<line x1="240" y1="166.5" x2="248" y2="166.5" stroke="#8c8c8c" stroke-width="1.1"/>
<line x1="496" y1="140.5" x2="501.7" y2="140.5" stroke="#6a4a55" stroke-width="1.1"/>
<line x1="507" y1="179.5" x2="514.2" y2="179.5" stroke="#5a6470" stroke-width="1.1"/>
<line x1="232" y1="428.5" x2="236.25" y2="428.5" stroke="#7a4a5a" stroke-width="1.1"/>
<line x1="244" y1="449.5" x2="248.75" y2="449.5" stroke="#6a7480" stroke-width="1.1"/>
<line x1="510" y1="417.5" x2="514.2" y2="417.5" stroke="#6a4a55" stroke-width="1.1"/>
<line x1="510" y1="426.5" x2="514.2" y2="426.5" stroke="#5a6a5e" stroke-width="1.1"/>
<line x1="500" y1="473.5" x2="504" y2="473.5" stroke="#5a6470" stroke-width="1.1"/>
</svg>
</body></html>
